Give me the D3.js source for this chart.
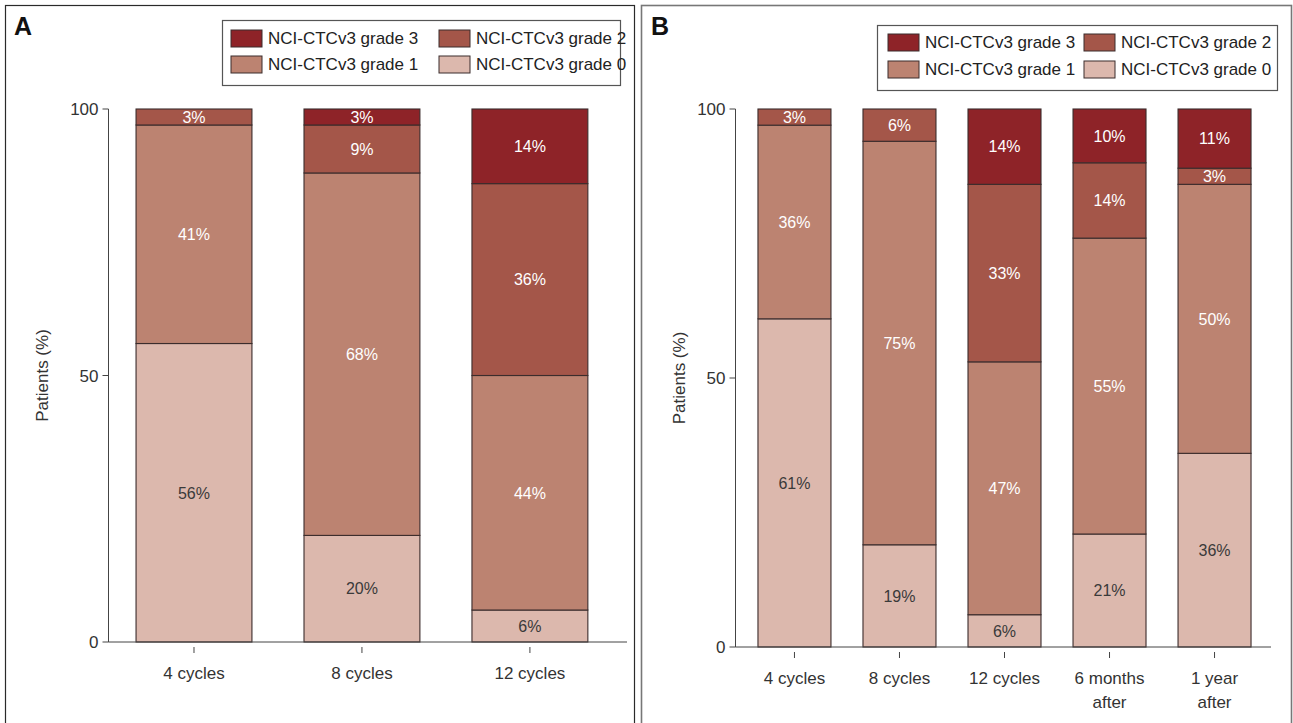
<!DOCTYPE html>
<html>
<head>
<meta charset="utf-8">
<script src="https://cdn.jsdelivr.net/npm/d3@7/dist/d3.min.js"></script>
<style>
  html, body { margin: 0; padding: 0; background: #fff; }
  svg { display: block; }
  text { font-family: "Liberation Sans Narrow", "Arial Narrow", "Liberation Sans", sans-serif; }
</style>
</head>
<body>
<svg id="chart" width="1293" height="723"></svg>
<script>
// Toxicity grade distribution (% of patients) per time point
const grades = ["NCI-CTCv3 grade 0", "NCI-CTCv3 grade 1", "NCI-CTCv3 grade 2", "NCI-CTCv3 grade 3"];
const gradeColors = ["#dcb8ad", "#bc8371", "#a45649", "#8e2328"];
const labelColors = ["#3a3a3a", "#ffffff", "#ffffff", "#ffffff"];

const categoriesA = [["4 cycles"], ["8 cycles"], ["12 cycles"]];
const grade0A = [56, 20, 6];
const grade1A = [41, 68, 44];
const grade2A = [3, 9, 36];
const grade3A = [0, 3, 14];

const categoriesB = [["4 cycles"], ["8 cycles"], ["12 cycles"], ["6 months", "after"], ["1 year", "after"]];
const grade0B = [61, 19, 6, 21, 36];
const grade1B = [36, 75, 47, 55, 50];
const grade2B = [3, 6, 33, 14, 3];
const grade3B = [0, 0, 14, 10, 11];

const yTicks = [0, 50, 100];
const yTitle = "Patients (%)";

const svg = d3.select("#chart");

// Panel frames
svg.append("rect").attr("x", 5.5).attr("y", 5.5).attr("width", 629).attr("height", 730)
  .attr("fill", "none").attr("stroke", "#2a2a2a").attr("stroke-width", 1.2);
svg.append("rect").attr("x", 641.5).attr("y", 5.5).attr("width", 650).attr("height", 730)
  .attr("fill", "none").attr("stroke", "#777").attr("stroke-width", 1.6);

function drawPanel(opt) {
  const g = svg.append("g");
  const n = opt.categories.length;
  const x = d3.scaleBand().domain(d3.range(n)).range([opt.x0, opt.x1]).paddingInner(opt.padIn).paddingOuter(opt.padOut);
  const y = d3.scaleLinear().domain([0, 100]).range([opt.yBottom, opt.yTop]);

  const rows = d3.range(n).map(i => {
    const vals = opt.series.map(s => s[i]);
    let acc = 0;
    return vals.map((v, k) => { const seg = { k, v, lo: acc, hi: acc + v, i }; acc += v; return seg; });
  });

  // Stacked bars
  rows.forEach(segs => {
    segs.filter(s => s.v > 0).forEach(s => {
      g.append("rect")
        .attr("x", x(s.i)).attr("width", x.bandwidth())
        .attr("y", y(s.hi)).attr("height", y(s.lo) - y(s.hi))
        .attr("fill", gradeColors[s.k]).attr("stroke", "#3b2c2c").attr("stroke-width", 1.1);
    });
  });
  // Value labels
  rows.forEach(segs => {
    segs.filter(s => s.v > 0).forEach(s => {
      g.append("text")
        .attr("x", x(s.i) + x.bandwidth() / 2)
        .attr("y", (y(s.hi) + y(s.lo)) / 2)
        .attr("dy", "0.36em")
        .attr("text-anchor", "middle")
        .attr("font-size", 16)
        .attr("fill", labelColors[s.k])
        .text(s.v + "%");
    });
  });

  // Y axis
  g.append("line").attr("x1", opt.axisX).attr("x2", opt.axisX).attr("y1", y(100)).attr("y2", y(0))
    .attr("stroke", "#444").attr("stroke-width", 1);
  yTicks.forEach(t => {
    g.append("line").attr("x1", opt.axisX - 6).attr("x2", opt.axisX).attr("y1", y(t)).attr("y2", y(t))
      .attr("stroke", "#444");
    g.append("text").attr("x", opt.axisX - 10).attr("y", y(t)).attr("dy", "0.36em")
      .attr("text-anchor", "end").attr("font-size", 17).attr("fill", "#333").text(t);
  });
  g.append("text")
    .attr("transform", `translate(${opt.titleX},${(y(0) + y(100)) / 2}) rotate(-90)`)
    .attr("text-anchor", "middle").attr("font-size", 17).attr("fill", "#333").text(yTitle);

  // X axis
  g.append("line").attr("x1", opt.axisX).attr("x2", opt.axisEnd).attr("y1", y(0)).attr("y2", y(0))
    .attr("stroke", "#444");
  opt.categories.forEach((c, i) => {
    const cx = x(i) + x.bandwidth() / 2;
    g.append("line").attr("x1", cx).attr("x2", cx).attr("y1", y(0) + 5).attr("y2", y(0) + 11)
      .attr("stroke", "#444");
    c.forEach((line, j) => {
      g.append("text").attr("x", cx).attr("y", y(0) + 37 + j * 24)
        .attr("text-anchor", "middle").attr("font-size", 17).attr("fill", "#333").text(line);
    });
  });

  // Panel letter
  g.append("text").attr("x", opt.letterX).attr("y", 35)
    .attr("font-family", "Liberation Sans, Arial, sans-serif").attr("font-weight", "bold")
    .attr("font-size", 25).attr("fill", "#111").text(opt.letter);

  // Legend
  const L = opt.legend;
  g.append("rect").attr("x", L.x + 0.5).attr("y", L.y + 0.5).attr("width", L.w).attr("height", L.h)
    .attr("fill", "#fff").attr("stroke", "#555").attr("stroke-width", 1.2);
  const order = [3, 2, 1, 0];
  order.forEach((k, idx) => {
    const col = idx % 2, row = Math.floor(idx / 2);
    const sx = L.x + L.col0 + col * L.colStep;
    const sy = L.y + L.row0 + row * L.rowStep;
    g.append("rect").attr("x", sx).attr("y", sy - 8).attr("width", 31).attr("height", 17)
      .attr("fill", gradeColors[k]).attr("stroke", "#3b2c2c").attr("stroke-width", 1);
    g.append("text").attr("x", sx + 37).attr("y", sy).attr("dy", "0.36em")
      .attr("font-size", 17).attr("fill", "#222").text(grades[k]);
  });
}

drawPanel({
  letter: "A", letterX: 14,
  categories: categoriesA,
  series: [grade0A, grade1A, grade2A, grade3A],
  x0: 108.5, x1: 615.4, padIn: 0.31, padOut: 0.164,
  axisX: 108.5, axisEnd: 627, yTop: 109, yBottom: 642, titleX: 48,
  legend: { x: 222, y: 20, w: 398, h: 65, col0: 9, colStep: 208, row0: 18, rowStep: 26 }
});

drawPanel({
  letter: "B", letterX: 651,
  categories: categoriesB,
  series: [grade0B, grade1B, grade2B, grade3B],
  x0: 735.5, x1: 1273.5, padIn: 0.305, padOut: 0.214,
  axisX: 735.5, axisEnd: 1271, yTop: 109, yBottom: 647, titleX: 685,
  legend: { x: 877, y: 25, w: 400, h: 65, col0: 11, colStep: 196, row0: 17, rowStep: 27 }
});
</script>
</body>
</html>
